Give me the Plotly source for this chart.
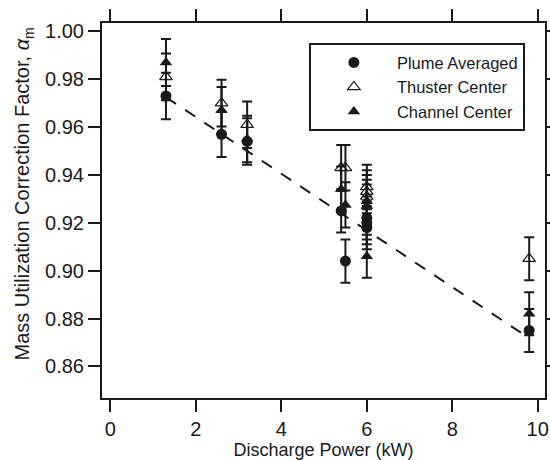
import plotly.graph_objects as go

# ---- data ----
power_kw = [1.3, 2.6, 3.2, 5.4, 5.5, 6.0, 6.0, 6.0, 9.8]

plume_avg = [0.973, 0.957, 0.954, 0.925, 0.904, 0.922, 0.920, 0.918, 0.875]
plume_err = [0.0097, 0.0095, 0.0097, 0.009, 0.009, 0.009, 0.009, 0.009, 0.009]

thruster_ctr = [0.981, 0.970, 0.961, 0.943, 0.943, 0.935, 0.933, 0.931, 0.905]
thruster_err = [0.0098, 0.0098, 0.0097, 0.0095, 0.0095, 0.0093, 0.009, 0.009, 0.009]

channel_ctr = [0.987, 0.967, 0.955, 0.934, 0.9275, 0.929, 0.927, 0.906, 0.882]
channel_err = [0.0098, 0.0098, 0.0097, 0.0095, 0.0095, 0.009, 0.009, 0.009, 0.009]

fit_x = [1.3, 9.7]
fit_y = [0.9725, 0.873]

x_ticks = [0, 2, 4, 6, 8, 10]
y_ticks = [0.86, 0.88, 0.90, 0.92, 0.94, 0.96, 0.98, 1.00]

INK = "#1a1a1a"
FONT = "Liberation Sans, Arial, Helvetica, sans-serif"

fig = go.Figure()

fig.add_trace(go.Scatter(
    x=fit_x, y=fit_y, mode="lines", showlegend=False,
    line=dict(color=INK, width=2, dash="12px,11px"), hoverinfo="skip"))

def err(v):
    return dict(type="data", array=v, visible=True, color=INK, thickness=2, width=5)

fig.add_trace(go.Scatter(
    x=power_kw, y=plume_avg, mode="markers", name="Plume Averaged",
    marker=dict(symbol="circle", size=11, color=INK, line=dict(width=0)),
    error_y=err(plume_err)))

fig.add_trace(go.Scatter(
    x=power_kw, y=thruster_ctr, mode="markers", name="Thuster Center",
    marker=dict(symbol="triangle-up-open", size=11, color=INK, line=dict(width=1.2)),
    error_y=err(thruster_err)))

fig.add_trace(go.Scatter(
    x=power_kw, y=channel_ctr, mode="markers", name="Channel Center",
    marker=dict(symbol="triangle-up", size=11, color=INK, line=dict(width=0)),
    error_y=err(channel_err)))

axis_common = dict(
    showline=True, linewidth=2, linecolor=INK, mirror="ticks",
    ticks="outside", ticklen=12, tickwidth=2, tickcolor=INK,
    showgrid=False, zeroline=False, automargin=False,
    tickfont=dict(family=FONT, size=20, color=INK),
)

fig.update_layout(
    width=550, height=460,
    margin=dict(l=102, r=5, t=23, b=62),
    paper_bgcolor="white", plot_bgcolor="white",
    font=dict(family=FONT, color=INK),
    xaxis=dict(range=[-0.197, 10.17], tickvals=x_ticks,
               title=dict(text="Discharge Power (kW)", font=dict(size=18, family=FONT, color=INK), standoff=4),
               **axis_common),
    yaxis=dict(range=[0.8468, 1.0035], tickvals=y_ticks, tickformat=".2f", **axis_common),
    legend=dict(x=0.467, y=0.946, xanchor="left", yanchor="top",
                bgcolor="white", bordercolor=INK, borderwidth=2,
                font=dict(family=FONT, size=16.5, color=INK),
                itemwidth=76),
    showlegend=True,
    annotations=[dict(
        text="Mass Utilization Correction Factor, <i>α</i><sub>m</sub>",
        textangle=-90, xref="paper", yref="paper",
        x=-0.175, y=0.544, xanchor="center", yanchor="middle",
        showarrow=False, font=dict(size=20, family=FONT, color=INK))],
)

fig.write_html("out.html")
